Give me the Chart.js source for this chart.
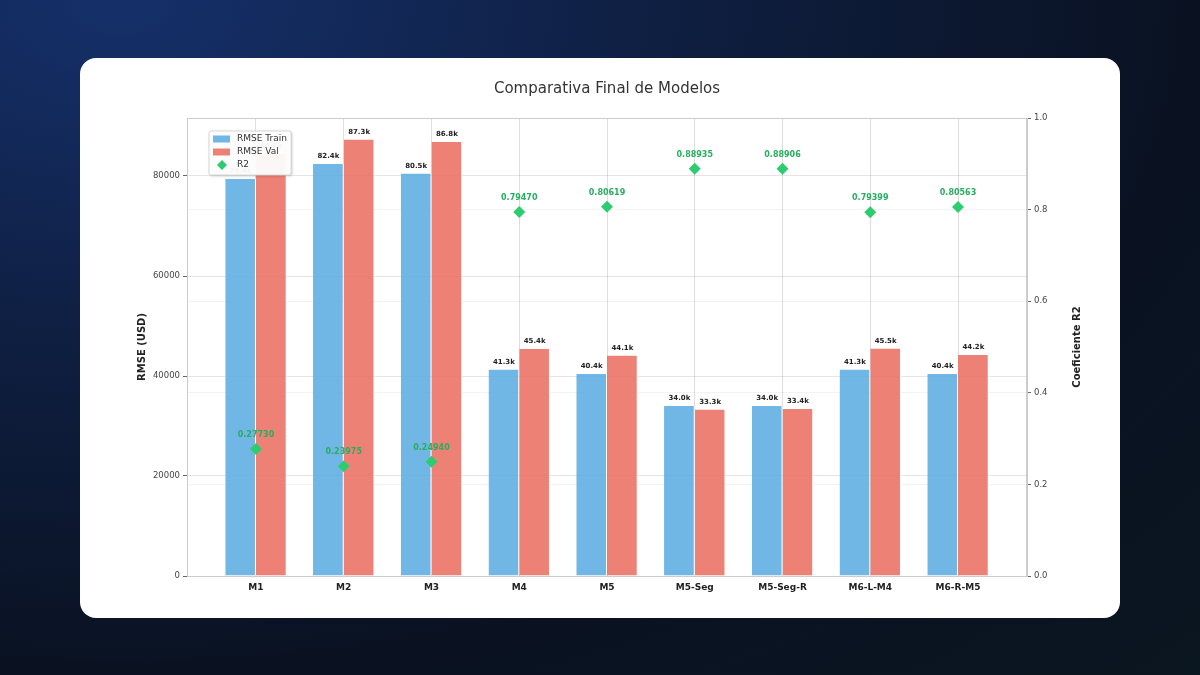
<!DOCTYPE html>
<html>
<head>
<meta charset="utf-8">
<script src="https://cdn.jsdelivr.net/npm/chart.js@4.4.0/dist/chart.umd.min.js"></script>
<style>
  html, body { margin: 0; padding: 0; }
  body {
    width: 1200px; height: 675px; overflow: hidden;
    background: radial-gradient(ellipse at 10% 0%, #15306a 0%, #0f1f42 35%, #0a1222 70%, #0a1620 100%);
  }
  .card {
    position: absolute; left: 80px; top: 58px; width: 1040px; height: 560px;
    background: #fff; border-radius: 16px; overflow: hidden;
  }
  canvas { display: block; }
</style>
</head>
<body>
<div class="card"><canvas id="grafico" width="1040" height="560"></canvas></div>
<script>
const modelos = ["M1", "M2", "M3", "M4", "M5", "M5-Seg", "M5-Seg-R", "M6-L-M4", "M6-R-M5"];
const rmseTrain = [79400, 82400, 80500, 41300, 40400, 34000, 34000, 41300, 40400];
const rmseVal = [84500, 87300, 86800, 45400, 44100, 33300, 33400, 45500, 44200];
const r2 = [0.27730, 0.23975, 0.24940, 0.79470, 0.80619, 0.88935, 0.88906, 0.79399, 0.80563];
const ticksRmse = [0, 20000, 40000, 60000, 80000];
const ticksR2 = [0, 0.2, 0.4, 0.6, 0.8, 1.0];

const fuente = "'DejaVu Sans', sans-serif";

// etiquetas encima de barras y puntos
const etiquetas = {
  id: "etiquetas",
  afterDatasetsDraw(chart) {
    const ctx = chart.ctx;
    ctx.save();
    ctx.textAlign = "center";
    ctx.textBaseline = "alphabetic";
    chart.data.datasets.forEach((ds, i) => {
      const meta = chart.getDatasetMeta(i);
      meta.data.forEach((el, j) => {
        if (ds.type === "line") {
          ctx.font = "bold 8px " + fuente;
          ctx.fillStyle = "#27ae60";
          ctx.fillText(ds.data[j].y.toFixed(5), el.x, el.y - 12);
        } else {
          ctx.font = "bold 7px " + fuente;
          ctx.fillStyle = "#222";
          ctx.fillText((ds.data[j].y / 1000).toFixed(1) + "k", el.x, el.y - 6);
        }
      });
    });
    ctx.restore();
  },
};

// marco, titulo derecho y leyenda
const extras = {
  id: "extras",
  afterDraw(chart) {
    const ctx = chart.ctx;
    const a = chart.chartArea;
    ctx.save();
    ctx.strokeStyle = "#cccccc";
    ctx.lineWidth = 1;
    ctx.strokeRect(a.left + 0.5, a.top + 0.5, a.right - a.left - 1, a.bottom - a.top);

    // titulo eje derecho (abajo hacia arriba)
    ctx.translate(a.right + 50, (a.top + a.bottom) / 2);
    ctx.rotate(-Math.PI / 2);
    ctx.font = "bold 10px " + fuente;
    ctx.fillStyle = "#222";
    ctx.textAlign = "center";
    ctx.textBaseline = "middle";
    ctx.fillText("Coeficiente R2", 0, 0);
    ctx.setTransform(1, 0, 0, 1, 0, 0);

    // leyenda
    const lx = a.left + 22, ly = a.top + 13, lw = 82, lh = 44;
    ctx.shadowColor = "rgba(0,0,0,0.25)";
    ctx.shadowBlur = 3;
    ctx.shadowOffsetX = 1;
    ctx.shadowOffsetY = 1;
    ctx.fillStyle = "rgba(255,255,255,0.95)";
    ctx.beginPath();
    ctx.roundRect(lx, ly, lw, lh, 2);
    ctx.fill();
    ctx.shadowColor = "transparent";
    ctx.strokeStyle = "#d6d6d6";
    ctx.stroke();
    ctx.font = "9px " + fuente;
    ctx.textAlign = "left";
    ctx.textBaseline = "middle";
    chart.data.datasets.forEach((ds, i) => {
      const y = ly + 8 + i * 13;
      if (ds.type === "line") {
        ctx.fillStyle = ds.backgroundColor;
        ctx.beginPath();
        ctx.moveTo(lx + 13, y - 5);
        ctx.lineTo(lx + 18, y);
        ctx.lineTo(lx + 13, y + 5);
        ctx.lineTo(lx + 8, y);
        ctx.closePath();
        ctx.fill();
      } else {
        ctx.fillStyle = ds.backgroundColor;
        ctx.fillRect(lx + 4, y - 3.5, 17, 7);
      }
      ctx.fillStyle = "#333";
      ctx.fillText(ds.label, lx + 28, y);
    });
    ctx.restore();
  },
};

new Chart(document.getElementById("grafico"), {
  type: "bar",
  data: {
    datasets: [
      {
        label: "RMSE Train",
        data: rmseTrain.map((v, i) => ({ x: i, y: v })),
        backgroundColor: "rgba(93,173,226,0.88)",
        borderColor: "#ffffff",
        borderWidth: { left: 0, right: 1, top: 0, bottom: 0 },
        yAxisID: "y",
        order: 2,
      },
      {
        label: "RMSE Val",
        data: rmseVal.map((v, i) => ({ x: i, y: v })),
        backgroundColor: "rgba(236,112,99,0.88)",
        borderColor: "#ffffff",
        borderWidth: { left: 0, right: 1, top: 0, bottom: 0 },
        yAxisID: "y",
        order: 2,
      },
      {
        type: "line",
        label: "R2",
        data: r2.map((v, i) => ({ x: i, y: v })),
        showLine: false,
        pointStyle: "rectRot",
        pointRadius: 6,
        pointHoverRadius: 6,
        backgroundColor: "#2ecc71",
        borderColor: "#2ecc71",
        borderWidth: 0,
        yAxisID: "y1",
        order: 1,
      },
    ],
  },
  options: {
    responsive: false,
    animation: false,
    events: [],
    layout: { padding: { left: 27, right: 13, top: 18, bottom: 8 } },
    datasets: {
      bar: { categoryPercentage: 0.7, barPercentage: 1.0, grouped: true },
    },
    plugins: {
      legend: { display: false },
      tooltip: { enabled: false },
      title: {
        display: true,
        text: "Comparativa Final de Modelos",
        color: "#333",
        font: { family: fuente, size: 15, weight: "normal" },
        padding: { top: 4, bottom: 20 },
      },
    },
    scales: {
      x: {
        type: "linear",
        offset: false,
        min: -0.786,
        max: 8.786,
        afterBuildTicks: (s) => { s.ticks = modelos.map((m, i) => ({ value: i })); },
        afterFit: (s) => { s.height = 34; },
        ticks: {
          callback: (v) => modelos[v],
          color: "#222",
          font: { family: fuente, size: 9, weight: "bold" },
          padding: 6,
          maxRotation: 0,
          autoSkip: false,
        },
        grid: { color: "rgba(0,0,0,0.13)", drawTicks: false, offset: false },
        border: { color: "#cccccc" },
      },
      y: {
        position: "left",
        min: 0,
        max: 91600,
        afterBuildTicks: (s) => { s.ticks = ticksRmse.map((v) => ({ value: v })); },
        afterFit: (s) => { s.width = 80; },
        ticks: {
          color: "#444",
          font: { family: fuente, size: 8.5 },
          padding: 3,
          callback: (v) => String(v),
        },
        grid: { color: "rgba(0,0,0,0.1)", tickColor: "#666", tickLength: 4 },
        border: { color: "#cccccc" },
        title: {
          display: true,
          text: "RMSE (USD)",
          color: "#222",
          font: { family: fuente, size: 10, weight: "bold" },
          padding: { top: 29 },
        },
      },
      y1: {
        position: "right",
        min: 0,
        max: 1,
        afterBuildTicks: (s) => { s.ticks = ticksR2.map((v) => ({ value: v })); },
        afterFit: (s) => { s.width = 80; },
        ticks: {
          color: "#444",
          font: { family: fuente, size: 8.5 },
          padding: 3,
          callback: (v) => v.toFixed(1),
        },
        grid: { color: "rgba(0,0,0,0.05)", tickColor: "#666", tickLength: 4 },
        border: { color: "#cccccc" },
      },
    },
  },
  plugins: [etiquetas, extras],
});
</script>
</body>
</html>
